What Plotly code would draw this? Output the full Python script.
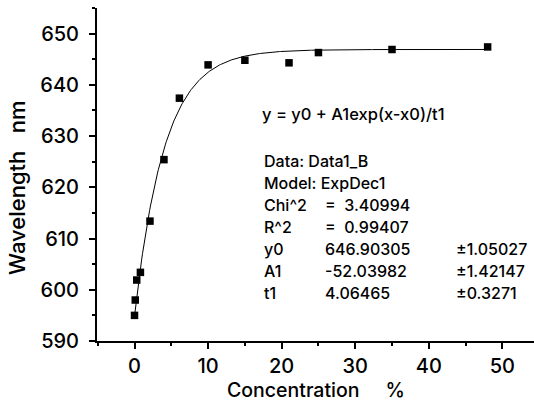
import numpy as np
import plotly.graph_objects as go

# Measured emission wavelength versus concentration
concentration = [0, 0.1, 0.3, 0.8, 2.1, 4.0, 6.1, 10, 15, 21, 25, 35, 48]
wavelength = [595.0, 598.0, 601.9, 603.4, 613.4, 625.4, 637.4, 643.9, 644.8, 644.3, 646.3, 646.9, 647.4]

# ExpDec1 fit parameters: y = y0 + A1*exp(-(x-x0)/t1)
fit_y0 = 646.90305
fit_A1 = -52.03982
fit_t1 = 4.06465
fit_x0 = 0.0
fit_x_max = 48

# Fit report text (column 1, column 2, column 3)
equation_text = "y = y0 + A1exp(x-x0)/t1"
report_rows = [
    ("Data: Data1_B", "", ""),
    ("Model: ExpDec1", "", ""),
    ("Chi^2", "=  3.40994", ""),
    ("R^2", "=  0.99407", ""),
    ("y0", "646.90305", "±1.05027"),
    ("A1", "-52.03982", "±1.42147"),
    ("t1", "4.06465", "±0.3271"),
]

x_ticks = [0, 10, 20, 30, 40, 50]
y_ticks = [590, 600, 610, 620, 630, 640, 650]

W, H = 534, 403
ML, MR, MT, MB = 97, 0, 8, 62
PW, PH = W - ML - MR, H - MT - MB

def px_to_paper(px, py):
    return (px - ML) / PW, (H - MB - py) / PH

fit_x = np.linspace(fit_x0, fit_x_max, 400)
fit_y = fit_y0 + fit_A1 * np.exp(-(fit_x - fit_x0) / fit_t1)

fig = go.Figure()
fig.add_trace(go.Scatter(x=fit_x, y=fit_y, mode="lines",
                         line=dict(color="black", width=1), hoverinfo="skip"))
fig.add_trace(go.Scatter(x=concentration, y=wavelength, mode="markers",
                         marker=dict(symbol="square", size=7.5, color="black")))

FONT = "Inter"
annotations = []

ex, ey = px_to_paper(260, 114)
annotations.append(dict(x=ex, y=ey, xref="paper", yref="paper", text=equation_text,
                        showarrow=False, xanchor="left", yanchor="middle",
                        font=dict(family=FONT, size=16.5, color="black", weight=500)))

col_px = [261.5, 323, 454]
row_y0, row_step = 160.7, 22.1
for i, row in enumerate(report_rows):
    for j, cell in enumerate(row):
        if not cell:
            continue
        ax, ay = px_to_paper(col_px[j], row_y0 + i * row_step)
        annotations.append(dict(x=ax, y=ay, xref="paper", yref="paper", text=cell,
                                showarrow=False, xanchor="left", yanchor="middle",
                                font=dict(family=FONT, size=16, color="black", weight=500)))

# Axis titles
tx, ty = px_to_paper(17, 188)
annotations.append(dict(x=tx, y=ty, xref="paper", yref="paper",
                        text="Wavelength\u00a0\u00a0\u00a0nm", textangle=-90, showarrow=False,
                        xanchor="center", yanchor="middle",
                        font=dict(family=FONT, size=22, color="black", weight=500)))
cx, cy = px_to_paper(315.5, 390)
annotations.append(dict(x=cx, y=cy, xref="paper", yref="paper",
                        text="Concentration" + "\u00a0" * 5 + "%", showarrow=False,
                        xanchor="center", yanchor="middle", borderpad=0,
                        font=dict(family=FONT, size=19.5, color="black", weight=500)))

axis_common = dict(showline=True, linecolor="black", linewidth=2, showgrid=False,
                   zeroline=False, ticks="outside", ticklen=6, tickwidth=1.5,
                   tickcolor="black", mirror=False,
                   tickfont=dict(family=FONT, size=20, color="black", weight=500))

fig.update_layout(
    width=W, height=H,
    margin=dict(l=ML, r=MR, t=MT, b=MB),
    paper_bgcolor="white", plot_bgcolor="white",
    showlegend=False,
    annotations=annotations,
    xaxis=dict(range=[-5.1, 54.3], tickvals=x_ticks,
               minor=dict(dtick=5, tick0=0, ticks="outside", ticklen=3,
                          tickcolor="black", tickwidth=1.5),
               ticklabelstandoff=0, **axis_common),
    yaxis=dict(range=[590, 655], tickvals=y_ticks,
               minor=dict(dtick=5, tick0=590, ticks="outside", ticklen=3,
                          tickcolor="black", tickwidth=1.5),
               ticklabelstandoff=6, **axis_common),
)

fig.write_html("out.html")
